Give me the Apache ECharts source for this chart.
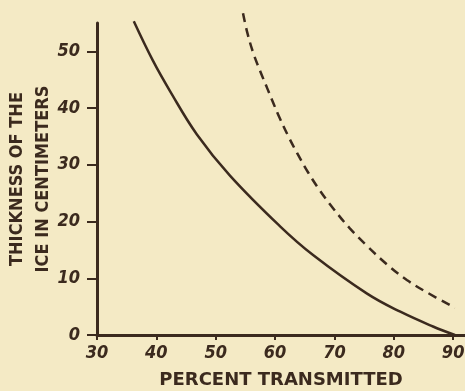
<!DOCTYPE html>
<html>
<head>
<meta charset="utf-8">
<script src="https://cdn.jsdelivr.net/npm/echarts@6/dist/echarts.min.js"></script>
<style>
  html, body { margin: 0; padding: 0; background: #f4eac5; }
  #chart { width: 465px; height: 391px; }
</style>
</head>
<body>
<div id="chart"></div>
<script>
// tick labels
var xTicks = [30, 40, 50, 60, 70, 80, 90];
var yTicks = [0, 10, 20, 30, 40, 50];

// solid curve (percent transmitted, thickness cm)
var solidX = [36.2, 39.4, 42.3, 46.8, 52.4, 60.8, 66.4, 75.5, 81.1, 86.6, 90.3];
var solidY = [55.3, 48.4, 43.0, 35.4, 28.1, 19.2, 14.1, 7.3, 4.1, 1.5, 0.0];

// dashed curve
var dashX = [54.6, 55.3, 56.3, 57.5, 58.6, 59.7, 60.8, 62.2, 63.7, 65.6, 67.6, 69.8, 72.6, 75.5, 78.9, 82.2, 85.6, 90.3];
var dashY = [56.7, 53.4, 49.8, 46.5, 43.7, 40.9, 38.2, 35.1, 32.1, 28.6, 25.4, 22.3, 18.8, 15.7, 12.4, 9.7, 7.5, 4.8];

function pairs(xs, ys) {
  return xs.map(function (x, i) { return [x, ys[i]]; });
}

var ink = '#3b2a1e';
var condensed = "'DejaVu Sans Condensed', 'DejaVu Sans', sans-serif";
var chart = echarts.init(document.getElementById('chart'));

chart.setOption({
  backgroundColor: '#f4eac5',
  animation: false,
  grid: { left: 97, right: 0, top: 23, bottom: 56, outerBoundsMode: 'none' },
  xAxis: {
    type: 'value',
    min: 30,
    max: 92,
    interval: 10,
    name: 'PERCENT TRANSMITTED',
    nameLocation: 'middle',
    nameGap: 36,
    nameMoveOverlap: false,
    nameTextStyle: { color: ink, fontFamily: 'DejaVu Sans', fontWeight: 'bold', fontSize: 18 },
    axisLine: { lineStyle: { color: ink, width: 3 } },
    axisTick: { show: true, length: 5, customValues: xTicks, lineStyle: { color: ink, width: 2 } },
    axisLabel: {
      customValues: xTicks,
      margin: 9,
      color: ink,
      fontFamily: condensed,
      fontStyle: 'italic',
      fontWeight: 'bold',
      fontSize: 18
    },
    splitLine: { show: false }
  },
  yAxis: {
    type: 'value',
    min: 0,
    max: 55,
    interval: 10,
    name: 'THICKNESS OF THE\nICE IN CENTIMETERS',
    nameLocation: 'middle',
    nameRotate: 90,
    nameGap: 41,
    nameMoveOverlap: false,
    nameTextStyle: { color: ink, fontFamily: condensed, fontWeight: 'bold', fontSize: 18, lineHeight: 26 },
    axisLine: { show: true, lineStyle: { color: ink, width: 3 } },
    axisTick: { show: true, length: 10, customValues: yTicks, lineStyle: { color: ink, width: 2 } },
    axisLabel: {
      customValues: yTicks,
      margin: 17,
      color: ink,
      fontFamily: condensed,
      fontStyle: 'italic',
      fontWeight: 'bold',
      fontSize: 18
    },
    splitLine: { show: false }
  },
  series: [
    {
      type: 'line',
      data: pairs(solidX, solidY),
      smooth: 0.4,
      showSymbol: false,
      clip: false,
      lineStyle: { color: ink, width: 2.5 }
    },
    {
      type: 'line',
      data: pairs(dashX, dashY),
      smooth: 0.4,
      showSymbol: false,
      clip: false,
      lineStyle: { color: ink, width: 2.5, type: [9, 6] }
    }
  ]
});
</script>
</body>
</html>
